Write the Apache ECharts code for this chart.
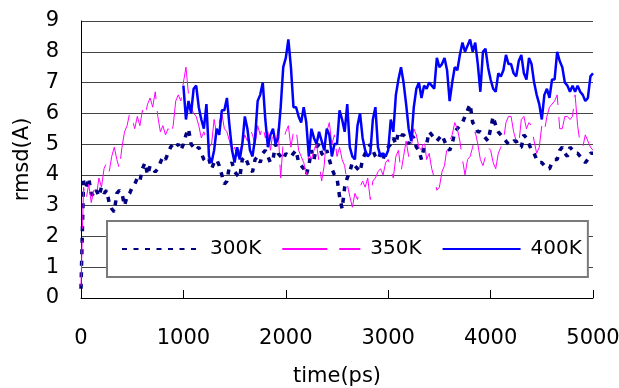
<!DOCTYPE html>
<html>
<head>
<meta charset="utf-8">
<script src="https://cdn.jsdelivr.net/npm/echarts@6/dist/echarts.min.js"></script>
<style>
  html, body { margin: 0; padding: 0; background: #fff; }
  #chart { width: 619px; height: 388px; }
</style>
</head>
<body>
<div id="chart"></div>
<script>
// sample times (ps), one every 25 ps
const times = Array.from({ length: 201 }, (_, i) => i * 25);
const xTicks = [0, 1000, 2000, 3000, 4000, 5000];
const yTicks = [0, 1, 2, 3, 4, 5, 6, 7, 8, 9];
const seriesNames = ["300K", "350K", "400K"];

// rmsd (A), one row = 500 ps
const rmsd300 = [
  0.3,3.8,3.6,3.9,3.4,3.3,3.5,3.3,3.6,3.4,3.5,3.1,2.9,2.8,3.4,3.5,3.4,3.0,3.3,3.4,
  3.6,3.7,3.9,3.8,4.2,4.4,4.0,4.3,4.2,4.1,4.2,4.4,4.6,4.5,4.7,4.9,5.0,4.9,5.0,4.8,
  5.0,5.3,5.5,5.0,4.9,4.8,4.9,4.7,4.5,4.4,4.5,4.2,4.4,4.5,4.3,4.0,3.7,3.8,4.3,4.4,
  4.1,4.0,3.9,4.5,4.6,4.4,4.2,4.1,4.5,4.6,4.4,4.7,4.8,4.6,4.4,4.5,5.0,4.7,4.6,4.5,
  4.7,4.6,4.6,4.7,4.8,4.4,4.3,4.2,4.0,4.3,4.8,4.5,4.9,5.0,4.7,4.6,4.8,4.5,4.2,4.0,
  3.9,3.3,2.9,3.6,3.9,4.1,4.4,4.3,4.2,4.1,4.5,4.7,4.8,5.0,4.8,4.6,4.5,4.7,4.5,4.8,
  4.9,5.0,5.2,5.0,5.4,5.3,5.3,5.2,5.0,5.3,5.2,4.9,4.8,4.5,4.9,5.0,5.4,5.3,5.2,5.1,
  5.2,5.3,5.1,4.9,4.8,5.0,5.4,5.5,5.6,5.7,5.9,6.1,6.3,5.7,5.6,5.4,5.4,5.3,5.2,5.1,
  5.5,5.9,5.6,5.4,5.3,5.2,5.1,5.0,5.0,5.1,5.1,4.9,4.9,5.3,5.2,5.0,4.8,4.7,4.5,4.4,
  4.4,4.3,4.2,4.2,4.4,4.5,4.5,4.8,4.9,4.7,4.6,4.9,4.8,4.7,4.7,4.6,4.5,4.4,4.5,4.7,
  4.7
];

const rmsd350 = [
  0.4,3.6,3.2,3.7,3.1,3.5,3.3,3.9,3.6,4.2,4.4,4.1,4.6,4.9,4.5,4.2,4.9,5.4,5.6,6.0,
  5.8,5.5,5.9,5.6,6.1,5.9,6.3,6.5,6.2,6.7,5.9,5.4,5.6,5.3,5.5,5.3,5.6,6.4,6.6,6.4,
  7.0,7.5,6.6,6.2,6.0,5.9,5.6,5.2,5.4,5.1,4.9,5.0,5.8,5.3,5.7,6.0,5.5,5.4,5.1,4.7,
  4.9,4.6,4.8,5.0,5.3,5.1,5.5,5.3,5.0,5.6,5.3,5.6,5.2,5.4,4.8,5.4,5.0,5.5,3.9,5.1,
  5.4,5.6,4.9,5.4,5.5,4.8,4.6,4.4,4.0,4.7,4.5,4.8,5.0,4.4,3.8,4.3,5.4,5.7,5.0,5.3,
  4.6,4.9,4.5,4.3,3.7,3.3,2.95,3.4,3.2,3.6,3.8,3.6,3.9,3.2,3.8,3.9,4.1,4.2,4.0,4.4,
  4.5,4.2,3.9,4.6,4.8,4.1,4.6,5.1,4.6,4.9,5.5,5.3,4.9,4.8,5.2,4.5,4.7,4.2,3.9,3.5,
  3.6,4.1,4.3,4.9,5.1,5.3,5.7,5.5,5.1,4.5,4.0,4.5,4.6,4.9,5.4,5.0,4.5,4.3,4.6,4.9,
  4.8,4.4,4.2,4.7,4.9,5.1,5.7,5.9,5.9,5.4,5.1,5.0,5.8,5.9,5.5,5.7,5.6,5.1,4.7,4.9,
  5.6,5.4,5.9,6.2,6.3,6.4,6.6,5.5,5.5,5.9,5.9,5.8,5.9,6.6,5.6,5.0,4.9,5.3,5.1,4.9,
  4.8
];

// 400K starts at 1000 ps
const rmsd400Start = 1000;
const rmsd400 = [
  6.9,5.8,6.4,6.0,6.8,6.9,6.2,5.8,5.5,6.3,4.6,4.4,4.8,5.5,5.3,6.1,6.1,6.5,5.6,4.8,
  4.4,4.9,4.5,5.0,5.9,5.5,4.8,4.6,5.2,6.4,6.6,7.0,5.8,4.9,5.3,5.5,5.0,5.2,6.2,7.5,
  7.8,8.4,7.5,6.2,6.2,5.9,5.7,6.2,5.7,4.6,5.5,5.2,5.0,5.4,5.1,4.8,5.5,5.3,4.6,5.0,
  5.0,6.1,5.8,5.4,6.3,4.9,4.6,4.5,5.6,6.0,5.2,4.8,4.6,4.7,5.8,6.2,4.9,4.6,4.7,4.6,
  4.8,5.8,5.4,6.6,7.1,7.5,7.0,6.3,5.5,5.1,6.2,6.8,7.0,6.5,6.9,6.8,7.0,6.9,6.8,7.8,
  7.5,7.6,7.8,7.4,6.4,7.0,7.5,7.4,7.9,8.3,8.0,8.2,8.4,8.0,8.3,7.6,6.7,8.0,8.1,7.5,
  7.1,6.8,6.7,7.3,7.2,7.4,7.9,7.6,7.6,7.3,7.2,7.7,7.9,7.3,7.1,7.8,7.6,7.0,6.6,6.3,
  5.8,6.6,6.8,6.5,7.1,7.1,8.0,7.7,7.5,7.0,6.9,6.7,6.9,6.7,6.9,6.7,6.6,6.4,6.5,7.2,
  7.3
];

const FONT = "DejaVu Sans";

function pairs(values, start) {
  const off = times.indexOf(start);
  return values.map((v, i) => [times[off + i], v]);
}

const chart = echarts.init(document.getElementById("chart"), null, { renderer: "canvas" });

const option = {
  animation: false,
  backgroundColor: "#fff",
  textStyle: { fontFamily: FONT, color: "#000" },
  grid: {
    left: 81, right: 26, top: 21, bottom: 90,
    containLabel: false,
    outerBoundsMode: "none"
  },
  xAxis: {
    type: "value",
    min: xTicks[0],
    max: xTicks[xTicks.length - 1],
    interval: 1000,
    name: "time(ps)",
    nameLocation: "middle",
    nameGap: 68,
    nameTextStyle: { fontSize: 21, color: "#000", fontFamily: FONT },
    axisLine: { lineStyle: { color: "#000", width: 1 } },
    axisTick: { inside: true, length: 8, lineStyle: { color: "#000" } },
    axisLabel: {
      fontSize: 21, color: "#000", margin: 30, fontFamily: FONT,
      formatter: (v) => String(v)
    },
    splitLine: { show: false }
  },
  yAxis: {
    type: "value",
    min: yTicks[0],
    max: yTicks[yTicks.length - 1],
    interval: 1,
    name: "rmsd(A)",
    nameLocation: "middle",
    nameGap: 48,
    nameTextStyle: { fontSize: 21, color: "#000", fontFamily: FONT },
    axisLine: { show: true, lineStyle: { color: "#000", width: 1 } },
    axisTick: { show: false },
    axisLabel: { fontSize: 21, color: "#000", margin: 22, fontFamily: FONT },
    splitLine: { show: true, lineStyle: { color: "#444", width: 1 } }
  },
  legend: {
    data: seriesNames,
    left: 107,
    top: 221,
    padding: [18, 6, 18, 14],
    itemWidth: 78,
    itemHeight: 14,
    itemGap: 20,
    backgroundColor: "#fff",
    borderColor: "#7a7a7a",
    borderWidth: 2,
    itemStyle: { opacity: 0 },
    textStyle: { fontSize: 20, color: "#000", fontFamily: FONT, padding: [0, 0, 0, 5] }
  },
  series: [
    {
      name: seriesNames[0],
      type: "line",
      symbol: "none",
      data: pairs(rmsd300, 0),
      lineStyle: { color: "#000080", width: 3.5, type: [5, 6.5] },
      itemStyle: { color: "#000080" }
    },
    {
      name: seriesNames[1],
      type: "line",
      symbol: "none",
      data: pairs(rmsd350, 0),
      lineStyle: { color: "#ff00ff", width: 1, type: [45, 12] },
      itemStyle: { color: "#ff00ff" }
    },
    {
      name: seriesNames[2],
      type: "line",
      symbol: "none",
      data: pairs(rmsd400, rmsd400Start),
      lineStyle: { color: "#0000ff", width: 2.5 },
      itemStyle: { color: "#0000ff" }
    }
  ]
};

chart.setOption(option);
</script>
</body>
</html>
